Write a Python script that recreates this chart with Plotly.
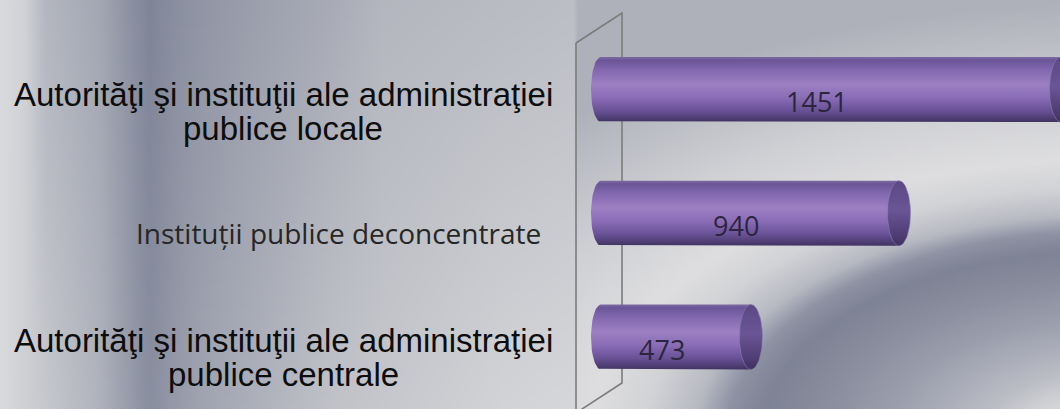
import base64
import math
import struct
import zlib

import plotly.graph_objects as go

# ---------------- data ----------------
categories = [
    "Autorităţi şi instituţii ale administraţiei publice locale",
    "Instituții publice deconcentrate",
    "Autorităţi şi instituţii ale administraţiei publice centrale",
]
label_lines = [
    ["Autorităţi şi instituţii ale administraţiei", "publice locale"],
    ["Instituții publice deconcentrate"],
    ["Autorităţi şi instituţii ale administraţiei", "publice centrale"],
]
values = [1451, 940, 473]

# ---------------- geometry / style ----------------
W, H = 1060, 409
X0_PX = 601.0          # pixel of value 0
PX_PER_UNIT = 0.317
Y0_PX = 89.5           # pixel centre of first category
PX_PER_CAT = 123.75
BAR_HALF_PX = 32.5

x_range = [-X0_PX / PX_PER_UNIT, (W - X0_PX) / PX_PER_UNIT]
y_range = [(H - Y0_PX) / PX_PER_CAT, -Y0_PX / PX_PER_CAT]
hh = BAR_HALF_PX / PX_PER_CAT
rx_left = 10.0 / PX_PER_UNIT
rx_cap = 11.5 / PX_PER_UNIT


def hex2rgb(h):
    h = h.lstrip("#")
    return tuple(int(h[i:i + 2], 16) for i in (0, 2, 4))


def interp(stops, t):
    if t <= stops[0][0]:
        return stops[0][1]
    for (p0, c0), (p1, c1) in zip(stops, stops[1:]):
        if t <= p1:
            f = (t - p0) / (p1 - p0)
            return tuple(c0[k] + (c1[k] - c0[k]) * f for k in range(3))
    return stops[-1][1]


def S(lst):
    return [(p, hex2rgb(c)) for p, c in lst]


left_top = S([(0, "#d9dadd"), (25, "#d0d2d6"), (45, "#b4b7c0"), (100, "#a3a7b3"),
              (138, "#878c9e"), (150, "#7f8497"), (175, "#8a8fa0"), (230, "#979ba9"),
              (330, "#a8abb6"), (380, "#b3b6be"), (576, "#bcbec5")])
left_bot = S([(0, "#d9dadd"), (40, "#c8cacf"), (100, "#b0b3bd"), (140, "#8f94a5"),
              (150, "#8a8fa0"), (200, "#a0a4b1"), (330, "#c0c2c8"), (500, "#d2d3d6"),
              (576, "#d6d7da")])
right_r = S([(0.0, "#e0e0e2"), (0.15, "#dcdcdd"), (0.27, "#cfd0d3"), (0.37, "#bcbec6"),
             (0.49, "#adb0bb"), (0.64, "#9b9fad"), (0.8, "#8c90a0"), (1.0, "#7e8395"),
             (1.1, "#8e92a3"), (1.19, "#b8bac3"), (1.33, "#d2d3d6"), (1.48, "#dedee0"),
             (1.8, "#cfd0d4"), (2.3, "#aeb1ba")])


def bg(px, py):
    if px < 576:
        a = interp(left_top, px)
        b = interp(left_bot, px)
        f = py / H
        return tuple(a[k] + (b[k] - a[k]) * f for k in range(3))
    dx = (px - 1110) / 350.0
    dy = (py - 440) / 190.0
    return interp(right_r, math.sqrt(dx * dx + dy * dy))


def make_png(w, h, fn):
    raw = bytearray()
    for j in range(h):
        raw.append(0)
        for i in range(w):
            c = fn((i + 0.5) * W / w, (j + 0.5) * H / h)
            raw.extend(int(round(max(0, min(255, v)))) for v in c)

    def chunk(tag, data):
        return (struct.pack(">I", len(data)) + tag + data
                + struct.pack(">I", zlib.crc32(tag + data) & 0xFFFFFFFF))

    png = b"\x89PNG\r\n\x1a\n"
    png += chunk(b"IHDR", struct.pack(">IIBBBBB", w, h, 8, 2, 0, 0, 0))
    png += chunk(b"IDAT", zlib.compress(bytes(raw), 9))
    png += chunk(b"IEND", b"")
    return "data:image/png;base64," + base64.b64encode(png).decode()


bg_uri = make_png(265, 102, bg)

body_scale = [[0, "#7d6aa3"], [0.05, "#6a5596"], [0.2, "#8368b0"], [0.42, "#9c80c2"],
              [0.62, "#8a6db6"], [0.82, "#6a5297"], [0.94, "#4f3e73"], [1, "#3f3260"]]
cap_scale = [[0, "#5a4883"], [0.45, "#6a5596"], [0.85, "#4d3c72"], [1, "#3e3160"]]

fig = go.Figure()

for i, v in enumerate(values):
    c = i
    # body: rounded left end (half ellipse) + straight body up to value
    xs, ys = [0, v, v, 0], [c - hh, c - hh, c + hh, c + hh]
    n = 30
    for k in range(1, n):
        t = math.pi * k / n
        xs.append(-rx_left * math.sin(t))
        ys.append(c + hh * math.cos(t))
    xs.append(0)
    ys.append(c - hh)
    fig.add_trace(go.Scatter(
        x=xs, y=ys, mode="lines", fill="toself", line=dict(width=0),
        fillgradient=dict(type="vertical", colorscale=body_scale,
                          start=c - hh, stop=c + hh),
        hoverinfo="skip", showlegend=False, name=categories[i]))
    # end cap
    cx, cy = [], []
    for k in range(61):
        t = 2 * math.pi * k / 60
        cx.append(v + rx_cap * math.cos(t))
        cy.append(c + hh * math.sin(t))
    fig.add_trace(go.Scatter(
        x=cx, y=cy, mode="lines", fill="toself", line=dict(width=0.6, color="#8d7bb0"),
        fillgradient=dict(type="vertical", colorscale=cap_scale,
                          start=c - hh, stop=c + hh),
        hoverinfo="skip", showlegend=False))

annotations = []
# value labels
for i, v in enumerate(values):
    annotations.append(dict(
        x=v / 2, y=i, xref="x", yref="y", text=str(v), showarrow=False,
        xshift=-14, yshift=-12,
        font=dict(family="Open Sans", size=27, color="#2d2540")))

# category labels
big_font = dict(family="Liberation Sans, Arial", size=33, color="#0d0d0d")
mid_font = dict(family="Open Sans", size=28, color="#262626")
for i, lines in enumerate(label_lines):
    if len(lines) == 2:
        for j, ln in enumerate(lines):
            annotations.append(dict(
                x=283 / W, y=i, xref="paper", yref="y", text=ln, showarrow=False,
                xanchor="center", yanchor="middle", yshift=-(4 + 34 * j) + (1 if i else -1),
                font=big_font))
    else:
        annotations.append(dict(
            x=338 / W, y=i, xref="paper", yref="y", text=lines[0], showarrow=False,
            xanchor="center", yanchor="middle", yshift=-20, font=mid_font))


def P(px, py):
    return f"{px / W:.5f},{1 - py / H:.5f}"


wall_path = ("M " + P(576, 43) + " L " + P(622, 13) + " L " + P(622, 383)
             + " L " + P(579, 411) + " M " + P(576, 43) + " L " + P(576, 411))

fig.update_layout(
    width=W, height=H, autosize=False,
    margin=dict(l=0, r=0, t=0, b=0, pad=0),
    paper_bgcolor="#c0c2c8", plot_bgcolor="rgba(0,0,0,0)",
    xaxis=dict(range=x_range, visible=False, fixedrange=True),
    yaxis=dict(range=y_range, visible=False, fixedrange=True),
    showlegend=False,
    images=[dict(source=bg_uri, xref="paper", yref="paper", x=0, y=1,
                 sizex=1, sizey=1, xanchor="left", yanchor="top",
                 sizing="stretch", layer="below")],
    shapes=[dict(type="path", path=wall_path, xref="paper", yref="paper",
                 line=dict(color="#7c7c7c", width=1.6), layer="below")],
    annotations=annotations,
)

fig.write_html(
    "out.html",
    config={"displayModeBar": False, "staticPlot": True},
    post_script="document.body.style.margin='0';document.body.style.overflow='hidden';",
)
